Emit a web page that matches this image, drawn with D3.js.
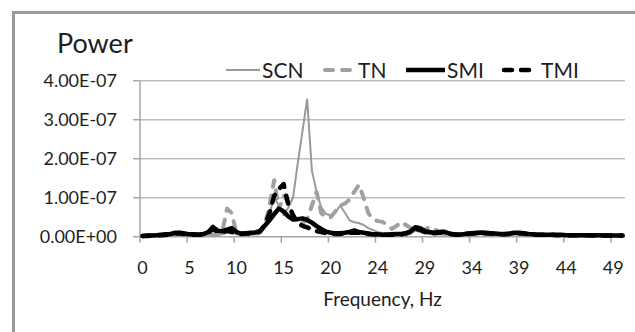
<!DOCTYPE html>
<html><head><meta charset="utf-8">
<script src="https://cdn.jsdelivr.net/npm/d3@7"></script>
<style>html,body{margin:0;padding:0;background:#fff;}svg{display:block;font-family:Lato,"Open Sans",sans-serif;}</style>
</head><body><svg id="c" width="635" height="332"></svg>
<script>
// frequency bins (Hz), resolution 1000/2048
const binHz = 0.48828125;
const frequencies = d3.range(103).map(k => k * binHz);
const xTickBins = [0,10,20,30,40,50,60,70,80,90,100];
const yTicks = [0, 1e-7, 2e-7, 3e-7, 4e-7];
const seriesNames = ["SCN","TN","SMI","TMI"];
// values in units of 1e-7
const SCN = [0.02,0.02,0.03,0.03,0.03,0.04,0.04,0.05,0.05,0.05,0.04,0.04,0.04,0.04,0.05,0.05,0.05,0.06,0.10,0.10,
  0.06,0.05,0.05,0.05,0.06,0.10,0.25,0.60,1.00,0.80,0.55,0.75,1.00,1.88,2.70,3.52,1.70,1.15,0.75,0.58,
  0.55,0.62,0.80,0.62,0.42,0.37,0.35,0.30,0.22,0.17,0.12,0.09,0.07,0.06,0.06,0.05,0.06,0.08,0.15,0.12,
  0.08,0.07,0.06,0.06,0.05,0.05,0.05,0.05,0.05,0.05,0.05,0.06,0.06,0.05,0.05,0.05,0.05,0.05,0.05,0.05,
  0.06,0.06,0.05,0.05,0.04,0.04,0.04,0.04,0.04,0.04,0.04,0.04,0.04,0.03,0.03,0.03,0.03,0.03,0.03,0.03,0.03,0.03,0.03];
const TN = [0.02,0.02,0.03,0.03,0.03,0.04,0.04,0.05,0.05,0.05,0.04,0.04,0.04,0.04,0.04,0.05,0.05,0.15,0.72,0.60,
  0.08,0.05,0.05,0.05,0.06,0.10,0.30,0.80,1.45,0.70,1.05,0.90,0.55,0.40,0.35,0.45,0.80,1.15,0.60,0.50,
  0.50,0.65,0.80,0.85,0.95,1.15,1.33,1.00,0.60,0.45,0.40,0.38,0.30,0.20,0.28,0.38,0.30,0.22,0.20,0.15,
  0.18,0.25,0.20,0.12,0.14,0.10,0.07,0.06,0.05,0.05,0.05,0.06,0.06,0.05,0.05,0.05,0.05,0.05,0.05,0.05,
  0.06,0.06,0.05,0.05,0.04,0.04,0.04,0.04,0.04,0.04,0.04,0.04,0.04,0.03,0.03,0.03,0.03,0.03,0.03,0.03,0.03,0.03,0.03];
const SMI = [0.02,0.03,0.03,0.04,0.05,0.06,0.07,0.10,0.10,0.08,0.06,0.06,0.05,0.07,0.12,0.25,0.15,0.14,0.18,0.22,
  0.12,0.08,0.09,0.10,0.11,0.15,0.28,0.42,0.58,0.72,0.65,0.52,0.44,0.45,0.47,0.43,0.36,0.27,0.20,0.13,
  0.10,0.09,0.09,0.10,0.12,0.16,0.12,0.10,0.08,0.06,0.06,0.05,0.05,0.06,0.07,0.07,0.09,0.14,0.24,0.22,
  0.14,0.12,0.10,0.12,0.13,0.09,0.06,0.05,0.06,0.08,0.09,0.10,0.11,0.10,0.09,0.08,0.07,0.07,0.08,0.10,
  0.10,0.09,0.07,0.06,0.05,0.05,0.05,0.05,0.05,0.05,0.04,0.04,0.04,0.04,0.04,0.04,0.04,0.04,0.03,0.03,0.03,0.03,0.03];
const TMI = [0.02,0.02,0.03,0.03,0.04,0.05,0.06,0.08,0.08,0.07,0.05,0.05,0.05,0.06,0.10,0.20,0.12,0.12,0.15,0.12,
  0.08,0.07,0.08,0.08,0.10,0.14,0.30,0.60,1.05,1.22,1.35,0.82,0.55,0.35,0.28,0.24,0.18,0.14,0.12,0.09,
  0.08,0.07,0.07,0.08,0.10,0.10,0.10,0.08,0.07,0.06,0.05,0.05,0.05,0.05,0.06,0.06,0.08,0.12,0.20,0.18,
  0.12,0.10,0.09,0.10,0.11,0.08,0.06,0.05,0.05,0.07,0.08,0.09,0.09,0.09,0.08,0.07,0.06,0.06,0.07,0.08,
  0.09,0.08,0.06,0.05,0.05,0.05,0.05,0.05,0.04,0.04,0.04,0.04,0.04,0.04,0.04,0.04,0.03,0.03,0.03,0.03,0.03,0.03,0.03];

const svg = d3.select("#c");
const plotLeft = 140, plotRight = 625, plotTop = 80.7, plotBottom = 236.7;
const x = d3.scaleBand().domain(d3.range(frequencies.length)).range([plotLeft, plotRight]).padding(0);
const bw = x.bandwidth();
const xc = k => x(k) + bw / 2;
const y = d3.scaleLinear().domain([0, 4e-7]).range([plotBottom, plotTop]);

// outer border
svg.append("path").attr("d", `M13.5,340V12.5H640`).attr("fill","none").attr("stroke","#9a9a9a").attr("stroke-width",3);

// gridlines
svg.append("g").selectAll("line").data(yTicks.slice(1)).join("line")
  .attr("x1", plotLeft).attr("x2", plotRight).attr("y1", d => y(d)).attr("y2", d => y(d))
  .attr("stroke", "#bdbdbd").attr("stroke-width", 1.5);

// axes lines
svg.append("line").attr("x1", plotLeft).attr("x2", plotRight).attr("y1", y(0)).attr("y2", y(0)).attr("stroke","#a6a6a6").attr("stroke-width",1.5);
svg.append("line").attr("x1", plotLeft).attr("x2", plotLeft).attr("y1", y(4e-7)).attr("y2", y(0)).attr("stroke","#a6a6a6").attr("stroke-width",1.5);
// y ticks
svg.append("g").selectAll("line").data(yTicks).join("line")
  .attr("x1", plotLeft - 7).attr("x2", plotLeft).attr("y1", d => y(d)).attr("y2", d => y(d))
  .attr("stroke","#a6a6a6").attr("stroke-width",1.5);
svg.append("g").selectAll("text").data(yTicks).join("text")
  .attr("x", 117).attr("y", d => y(d) + 6.5).attr("text-anchor","end")
  .attr("font-size", 18).attr("fill","#1e1e1e")
  .text(d => d === 0 ? "0.00E+00" : (d/1e-7).toFixed(2) + "E-07");
// x ticks
svg.append("g").selectAll("line").data(xTickBins).join("line")
  .attr("x1", k => x(k)).attr("x2", k => x(k)).attr("y1", y(0)).attr("y2", y(0) + 6)
  .attr("stroke","#a6a6a6").attr("stroke-width",1.5);
svg.append("g").selectAll("text").data(xTickBins).join("text")
  .attr("x", k => xc(k)).attr("y", 274).attr("text-anchor","middle")
  .attr("font-size", 18).attr("fill","#1e1e1e")
  .text(k => Math.round(frequencies[k]));

// titles
svg.append("text").attr("x", 57).attr("y", 53).attr("font-size", 27).attr("fill","#1e1e1e").text("Power");
svg.append("text").attr("x", (plotLeft + plotRight) / 2).attr("y", 306).attr("text-anchor","middle")
  .attr("font-size", 19).attr("fill","#1e1e1e").text("Frequency, Hz");

// series
const styles = {
  SCN: {data: SCN, color: "#999999", width: 2, dash: null},
  TN:  {data: TN,  color: "#a0a0a0", width: 4, dash: "8,9"},
  SMI: {data: SMI, color: "#000000", width: 4.5, dash: null},
  TMI: {data: TMI, color: "#000000", width: 4.5, dash: "8,9"}
};
const line = d3.line().x((d, i) => xc(i)).y(d => y(d * 1e-7));
const g = svg.append("g");
seriesNames.forEach(n => {
  const s = styles[n];
  g.append("path").datum(s.data).attr("d", line).attr("fill","none")
    .attr("stroke", s.color).attr("stroke-width", s.width)
    .attr("stroke-linejoin","round").attr("stroke-linecap", s.dash ? "round" : "butt")
    .attr("stroke-dasharray", s.dash);
});

// legend
const legendItems = [
  {name:"SCN", x0:226, x1:260, tx:262},
  {name:"TN",  x0:325, x1:354, tx:358},
  {name:"SMI", x0:406, x1:445, tx:447},
  {name:"TMI", x0:504, x1:535, tx:541}
];
const lg = svg.append("g");
legendItems.forEach(it => {
  const s = styles[it.name];
  lg.append("line").attr("x1", it.x0).attr("x2", it.x1).attr("y1", 70).attr("y2", 70)
    .attr("stroke", s.color).attr("stroke-width", s.width)
    .attr("stroke-linecap", s.dash ? "round" : "butt").attr("stroke-dasharray", s.dash);
  lg.append("text").attr("x", it.tx).attr("y", 77.5).attr("font-size", 21).attr("fill","#1e1e1e").text(it.name);
});
</script></body></html>
